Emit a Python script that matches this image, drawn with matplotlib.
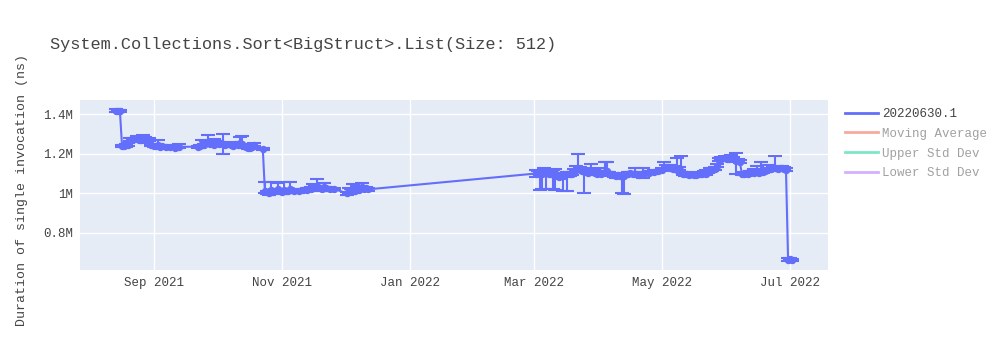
import matplotlib
matplotlib.use("Agg")
import matplotlib.pyplot as plt
from matplotlib.lines import Line2D
import pandas as pd

title = "System.Collections.Sort<BigStruct>.List(Size: 512)"
y_label = "Duration of single invocation (ns)"
series_names = ["20220630.1", "Moving Average", "Upper Std Dev", "Lower Std Dev"]
series_colors = ["#636efa", "#EF553B", "#00cc96", "#ab63fa"]

dates = [
    "2021-08-14", "2021-08-15", "2021-08-16",
    "2021-08-17", "2021-08-18", "2021-08-19", "2021-08-20", "2021-08-21",
    "2021-08-22", "2021-08-23", "2021-08-24", "2021-08-25", "2021-08-26",
    "2021-08-27", "2021-08-28", "2021-08-29", "2021-08-30", "2021-08-31",
    "2021-09-01", "2021-09-02", "2021-09-03", "2021-09-04", "2021-09-05",
    "2021-09-07", "2021-09-09", "2021-09-11", "2021-09-13",
    "2021-09-22", "2021-09-23", "2021-09-24", "2021-09-25", "2021-09-26",
    "2021-09-27", "2021-09-28", "2021-09-29", "2021-09-30", "2021-10-01",
    "2021-10-02", "2021-10-03", "2021-10-04", "2021-10-05",
    "2021-10-08", "2021-10-09", "2021-10-10", "2021-10-11", "2021-10-12",
    "2021-10-13", "2021-10-14", "2021-10-15", "2021-10-16", "2021-10-17",
    "2021-10-18", "2021-10-19", "2021-10-23",
    "2021-10-24", "2021-10-25", "2021-10-26", "2021-10-27", "2021-10-28",
    "2021-10-29", "2021-10-30", "2021-10-31", "2021-11-01", "2021-11-02",
    "2021-11-03", "2021-11-04", "2021-11-05", "2021-11-06", "2021-11-07",
    "2021-11-09", "2021-11-11", "2021-11-13", "2021-11-15", "2021-11-16",
    "2021-11-17", "2021-11-18", "2021-11-19", "2021-11-20", "2021-11-21",
    "2021-11-22", "2021-11-24", "2021-11-26",
    "2021-12-02", "2021-12-03", "2021-12-04", "2021-12-05", "2021-12-06",
    "2021-12-07", "2021-12-08", "2021-12-09", "2021-12-10", "2021-12-11",
    "2021-12-12",
    "2022-03-02", "2022-03-03", "2022-03-04", "2022-03-05", "2022-03-06",
    "2022-03-07", "2022-03-08", "2022-03-09", "2022-03-10", "2022-03-11",
    "2022-03-12", "2022-03-13", "2022-03-14", "2022-03-15", "2022-03-16",
    "2022-03-17", "2022-03-18", "2022-03-19", "2022-03-20", "2022-03-21",
    "2022-03-22", "2022-03-23", "2022-03-24", "2022-03-25", "2022-03-26",
    "2022-03-27", "2022-03-28", "2022-03-29", "2022-03-30", "2022-03-31",
    "2022-04-01", "2022-04-02", "2022-04-03", "2022-04-04", "2022-04-05",
    "2022-04-06", "2022-04-07", "2022-04-08", "2022-04-09", "2022-04-10",
    "2022-04-11", "2022-04-12", "2022-04-13", "2022-04-14", "2022-04-15",
    "2022-04-16", "2022-04-17", "2022-04-18", "2022-04-19", "2022-04-20",
    "2022-04-21", "2022-04-22", "2022-04-23", "2022-04-25", "2022-04-27",
    "2022-04-29", "2022-05-01", "2022-05-02", "2022-05-03", "2022-05-04",
    "2022-05-05", "2022-05-06", "2022-05-07", "2022-05-08", "2022-05-09",
    "2022-05-10", "2022-05-11", "2022-05-12", "2022-05-13", "2022-05-14",
    "2022-05-15", "2022-05-16", "2022-05-17", "2022-05-18", "2022-05-19",
    "2022-05-20", "2022-05-21", "2022-05-22", "2022-05-23", "2022-05-24",
    "2022-05-25", "2022-05-26", "2022-05-27", "2022-05-28", "2022-05-29",
    "2022-05-30", "2022-05-31", "2022-06-01", "2022-06-02", "2022-06-03",
    "2022-06-04", "2022-06-05", "2022-06-06", "2022-06-07", "2022-06-08",
    "2022-06-09", "2022-06-10", "2022-06-11", "2022-06-12", "2022-06-13",
    "2022-06-14", "2022-06-15", "2022-06-16", "2022-06-17", "2022-06-18",
    "2022-06-19", "2022-06-20", "2022-06-21", "2022-06-22", "2022-06-23",
    "2022-06-24", "2022-06-25", "2022-06-26", "2022-06-27", "2022-06-28",
    "2022-06-29", "2022-06-30", "2022-07-01", "2022-07-02",
]
values = [
    1.418, 1.415, 1.414,
    1.240, 1.238, 1.242, 1.245, 1.270,
    1.275, 1.272, 1.278, 1.270, 1.268,
    1.280, 1.275, 1.262, 1.270, 1.245,
    1.240, 1.238, 1.242, 1.235, 1.240,
    1.232, 1.235, 1.230, 1.235,
    1.235, 1.240, 1.250, 1.245, 1.255,
    1.260, 1.248, 1.252, 1.245, 1.258,
    1.250, 1.255, 1.250, 1.245,
    1.245, 1.240, 1.250, 1.245, 1.255,
    1.250, 1.240, 1.235, 1.230, 1.228,
    1.232, 1.245, 1.225,
    1.010, 1.005, 1.000, 1.015, 1.008,
    1.010, 1.020, 1.012, 1.005, 1.018,
    1.010, 1.012, 1.020, 1.015, 1.010,
    1.012, 1.015, 1.018, 1.020, 1.025,
    1.030, 1.035, 1.025, 1.020, 1.030,
    1.025, 1.020, 1.022,
    1.000, 1.005, 1.015, 1.020, 1.012,
    1.025, 1.018, 1.030, 1.022, 1.025,
    1.020,
    1.100, 1.105, 1.095, 1.100, 1.110,
    1.105, 1.095, 1.100, 1.110, 1.105,
    1.090, 1.080, 1.085, 1.095, 1.090,
    1.100, 1.095, 1.100, 1.115, 1.120,
    1.130, 1.125, 1.115, 1.120, 1.110,
    1.105, 1.115, 1.110, 1.105, 1.100,
    1.108, 1.100, 1.105, 1.110, 1.115,
    1.100, 1.095, 1.090, 1.085, 1.090,
    1.085, 1.090, 1.088, 1.095, 1.100,
    1.102, 1.098, 1.100, 1.095, 1.092,
    1.100, 1.098, 1.102, 1.105, 1.110,
    1.112, 1.120, 1.130, 1.135, 1.132,
    1.128, 1.125, 1.130, 1.120, 1.125,
    1.115, 1.100, 1.095, 1.098, 1.092,
    1.095, 1.090, 1.092, 1.095, 1.100,
    1.098, 1.105, 1.100, 1.108, 1.115,
    1.120, 1.125, 1.140, 1.170, 1.175,
    1.178, 1.180, 1.172, 1.175, 1.182,
    1.178, 1.165, 1.165, 1.160, 1.100,
    1.098, 1.102, 1.100, 1.105, 1.108,
    1.103, 1.110, 1.105, 1.112, 1.108,
    1.115, 1.120, 1.125, 1.122, 1.128,
    1.130, 1.125, 1.128, 1.130, 1.125,
    1.120, 0.665, 0.668, 0.663,
]
err_up = [
    0.006, 0.006, 0.008,
    0.006, 0.006, 0.006, 0.008, 0.010,
    0.006, 0.008, 0.012, 0.006, 0.006,
    0.012, 0.008, 0.006, 0.008, 0.006,
    0.006, 0.006, 0.028, 0.006, 0.006,
    0.006, 0.006, 0.006, 0.012,
    0.006, 0.006, 0.020, 0.006, 0.010,
    0.035, 0.006, 0.010, 0.030, 0.006,
    0.010, 0.006, 0.050, 0.006,
    0.006, 0.008, 0.010, 0.006, 0.030,
    0.040, 0.006, 0.006, 0.010, 0.006,
    0.006, 0.008, 0.006,
    0.045, 0.006, 0.006, 0.040, 0.006,
    0.010, 0.030, 0.006, 0.006, 0.040,
    0.006, 0.010, 0.035, 0.006, 0.008,
    0.006, 0.006, 0.008, 0.010, 0.020,
    0.006, 0.035, 0.006, 0.008, 0.020,
    0.006, 0.008, 0.006,
    0.006, 0.020, 0.006, 0.025, 0.006,
    0.010, 0.006, 0.020, 0.006, 0.008,
    0.006,
    0.020, 0.006, 0.006, 0.010, 0.020,
    0.006, 0.006, 0.015, 0.006, 0.020,
    0.006, 0.006, 0.006, 0.006, 0.006,
    0.006, 0.006, 0.006, 0.010, 0.020,
    0.070, 0.010, 0.006, 0.006, 0.006,
    0.006, 0.035, 0.006, 0.006, 0.006,
    0.020, 0.006, 0.006, 0.050, 0.045,
    0.006, 0.006, 0.006, 0.006, 0.006,
    0.006, 0.006, 0.006, 0.006, 0.006,
    0.006, 0.006, 0.030, 0.006, 0.006,
    0.006, 0.030, 0.006, 0.006, 0.010,
    0.006, 0.010, 0.030, 0.006, 0.006,
    0.015, 0.006, 0.006, 0.060, 0.006,
    0.075, 0.006, 0.006, 0.006, 0.006,
    0.006, 0.006, 0.006, 0.006, 0.006,
    0.006, 0.006, 0.020, 0.006, 0.015,
    0.006, 0.006, 0.006, 0.010, 0.006,
    0.006, 0.010, 0.006, 0.006, 0.010,
    0.006, 0.040, 0.006, 0.006, 0.006,
    0.006, 0.006, 0.006, 0.006, 0.006,
    0.020, 0.030, 0.006, 0.045, 0.006,
    0.006, 0.006, 0.020, 0.006, 0.006,
    0.060, 0.006, 0.006, 0.006, 0.006,
    0.006, 0.008, 0.006, 0.006,
]
err_down = [
    0.006, 0.006, 0.006,
    0.006, 0.006, 0.006, 0.006, 0.006,
    0.006, 0.006, 0.006, 0.006, 0.006,
    0.006, 0.006, 0.006, 0.006, 0.006,
    0.006, 0.006, 0.010, 0.006, 0.006,
    0.006, 0.006, 0.006, 0.006,
    0.006, 0.006, 0.006, 0.006, 0.006,
    0.006, 0.006, 0.006, 0.006, 0.006,
    0.006, 0.006, 0.050, 0.006,
    0.006, 0.006, 0.006, 0.006, 0.006,
    0.006, 0.006, 0.006, 0.006, 0.006,
    0.006, 0.006, 0.006,
    0.006, 0.006, 0.006, 0.006, 0.006,
    0.006, 0.006, 0.006, 0.006, 0.006,
    0.006, 0.006, 0.006, 0.006, 0.006,
    0.006, 0.006, 0.006, 0.006, 0.006,
    0.006, 0.006, 0.006, 0.006, 0.006,
    0.006, 0.006, 0.006,
    0.006, 0.006, 0.006, 0.006, 0.006,
    0.006, 0.006, 0.006, 0.006, 0.006,
    0.006,
    0.020, 0.006, 0.080, 0.080, 0.006,
    0.085, 0.006, 0.006, 0.090, 0.090,
    0.006, 0.006, 0.006, 0.085, 0.006,
    0.090, 0.006, 0.006, 0.006, 0.006,
    0.006, 0.006, 0.006, 0.120, 0.006,
    0.006, 0.006, 0.006, 0.006, 0.006,
    0.006, 0.006, 0.006, 0.006, 0.006,
    0.006, 0.006, 0.006, 0.006, 0.006,
    0.006, 0.090, 0.090, 0.006, 0.006,
    0.006, 0.006, 0.006, 0.006, 0.006,
    0.006, 0.020, 0.006, 0.006, 0.006,
    0.006, 0.006, 0.006, 0.006, 0.006,
    0.006, 0.006, 0.006, 0.006, 0.006,
    0.006, 0.006, 0.006, 0.006, 0.006,
    0.006, 0.006, 0.006, 0.006, 0.006,
    0.006, 0.006, 0.006, 0.006, 0.006,
    0.006, 0.006, 0.006, 0.006, 0.006,
    0.006, 0.006, 0.006, 0.006, 0.006,
    0.006, 0.065, 0.006, 0.006, 0.006,
    0.006, 0.006, 0.006, 0.006, 0.006,
    0.006, 0.006, 0.006, 0.006, 0.006,
    0.006, 0.006, 0.006, 0.006, 0.006,
    0.006, 0.006, 0.006, 0.006, 0.006,
    0.006, 0.006, 0.006, 0.006,
]

y_ticks = [0.8, 1.0, 1.2, 1.4]
y_tick_labels = ["0.8M", "1M", "1.2M", "1.4M"]
x_ticks = ["2021-09-01", "2021-11-01", "2022-01-01", "2022-03-01", "2022-05-01", "2022-07-01"]
x_tick_labels = ["Sep 2021", "Nov 2021", "Jan 2022", "Mar 2022", "May 2022", "Jul 2022"]
x_range = ["2021-07-28", "2022-07-19"]
y_range = [0.613, 1.471]

plt.rcParams["font.family"] = ["Liberation Mono", "DejaVu Sans"]

fig = plt.figure(figsize=(10, 3.5), dpi=100)
ax = fig.add_axes([0.08, 1 - 270 / 350, 0.748, 170 / 350])
ax.set_facecolor("#e5ecf6")
for s in ax.spines.values():
    s.set_visible(False)

x = pd.to_datetime(dates)
ax.errorbar(x, values, yerr=[err_down, err_up], fmt="-o", color=series_colors[0],
            ecolor=series_colors[0], elinewidth=1.5, capsize=5, capthick=1.5,
            markersize=4.3, linewidth=1.5, zorder=3)

ax.set_xlim(pd.to_datetime(x_range[0]), pd.to_datetime(x_range[1]))
ax.set_ylim(*y_range)
ax.set_yticks(y_ticks)
ax.set_yticklabels(y_tick_labels)
ax.set_xticks(pd.to_datetime(x_ticks))
ax.set_xticklabels(x_tick_labels)
ax.grid(True, color="white", linewidth=1)
ax.set_axisbelow(True)
ax.tick_params(length=0, labelsize=9, colors="#444444", pad=5)

ax.set_ylabel(y_label, fontsize=9.5, color="#444444")
ax.yaxis.set_label_coords(-52 / 748, 0.47)

fig.text(0.05, 1 - 45 / 350, title, fontsize=12.2, color="#444444", va="center", ha="left")

handles = []
for i, c in enumerate(series_colors):
    handles.append(Line2D([0], [0], color=c, linewidth=2, alpha=1.0 if i == 0 else 0.5))
leg = fig.legend(handles, series_names, loc="upper left", bbox_to_anchor=(0.84, 1 - 103 / 350),
                 frameon=False, fontsize=9, handlelength=2.6, handletextpad=0.4,
                 labelspacing=0.62, borderaxespad=0)
for i, t in enumerate(leg.get_texts()):
    t.set_color("#444444")
    t.set_alpha(1.0 if i == 0 else 0.5)

fig.savefig("out.png", dpi=100)
